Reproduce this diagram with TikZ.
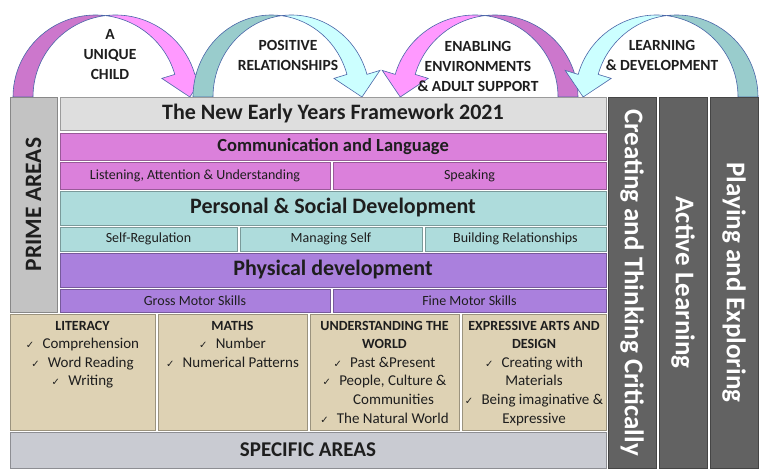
\documentclass[tikz,border=0pt]{standalone}
\usepackage{fontspec}
\setmainfont{Carlito}
\newfontfamily\tickfont{DejaVu Sans}
\usetikzlibrary{shadows}

\definecolor{pinklight}{HTML}{FF99FF}
\definecolor{pinkdark}{HTML}{CC77CC}
\definecolor{teallight}{HTML}{CCFFFF}
\definecolor{tealdark}{HTML}{99CCCC}
\definecolor{arrowline}{HTML}{4A66A8}
\definecolor{titlegray}{HTML}{DEDEDE}
\definecolor{commcol}{HTML}{DB80DB}
\definecolor{psdcol}{HTML}{AEDCDC}
\definecolor{physcol}{HTML}{AA80DD}
\definecolor{speccol}{HTML}{DED2B4}
\definecolor{specbar}{HTML}{C9CBD2}
\definecolor{primecol}{HTML}{C3C3C3}
\definecolor{charcol}{HTML}{626262}
\definecolor{inkcol}{HTML}{1E1E1E}

\newcommand\chk{{\tickfont\fontsize{10}{10}\selectfont ✓}\hspace{0.55em}}
\newcommand\hd[1]{{\fontsize{14}{18.6}\selectfont\bfseries #1}}

% curved arrow: tail x, head x, back colour, front colour
\def\curvedarrow#1#2#3#4{%
  \pgfmathsetmacro\arx{(#2-#1)/2}
  \pgfmathsetmacro\cL{#1+\arx}
  \pgfmathsetmacro\cR{\cL+20}
  \pgfmathsetmacro\tL{acos(10/\arx)}
  \pgfmathsetmacro\tR{180-\tL}
  \pgfmathsetmacro\sx{\arx*cos(16)}
  \pgfmathsetmacro\sy{375+82*sin(16)}
  \filldraw[fill=#3, draw=arrowline, line width=0.6pt]
    (#1,375) arc[start angle=180, end angle=\tL, x radius=\arx, y radius=82]
    arc[start angle=\tR, end angle=180, x radius=\arx, y radius=82] -- cycle;
  \filldraw[fill=#4, draw=arrowline, line width=0.6pt]
    (\cL+10,{375+82*sin(\tL)}) arc[start angle=\tR, end angle=16, x radius=\arx, y radius=82]
    -- ++(13,4) -- (\cL+\sx+15,375) -- (\cL+\sx-13,\sy-4) -- (\cL+\sx,\sy)
    arc[start angle=16, end angle=\tL, x radius=\arx, y radius=82] -- cycle;
}

\tikzset{
  tile/.style={fill=#1, draw=#1!70!black, line width=0.6pt, inner sep=0pt,
    drop shadow={shadow xshift=1.2pt, shadow yshift=-1.2pt, opacity=0.55}},
  arclabel/.style={align=center, text=inkcol, font=\fontsize{15.5}{20}\selectfont\bfseries},
  headfont/.style={text=inkcol, font=\fontsize{#1}{#1}\selectfont\bfseries},
  subfont/.style={text=inkcol, font=\fontsize{14}{14}\selectfont},
  spectext/.style={anchor=north, align=center, inner sep=2pt, yshift=-5, text=inkcol,
    font=\fontsize{15}{18.6}\selectfont},
  colfont/.style={text=white, font=\fontsize{27}{27}\selectfont\bfseries}
}

\begin{document}
\begin{tikzpicture}[x=1pt,y=1pt]
\useasboundingbox (0,0) rectangle (779,472);

% arrows over the top
\curvedarrow{13}{178}{pinkdark}{pinklight}
\curvedarrow{193}{350}{tealdark}{teallight}
\begin{scope}[xscale=-1]
  \curvedarrow{-578}{-412}{pinkdark}{pinklight}
  \curvedarrow{-758}{-595}{tealdark}{teallight}
\end{scope}

\node[arclabel] (child) at (110,417) {A\\UNIQUE\\CHILD};
\node[arclabel] (posrel) at (288,417) {POSITIVE\\RELATIONSHIPS};
\node[arclabel] (enable) at (478,406) {ENABLING\\ENVIRONMENTS\\\& ADULT SUPPORT};
\node[arclabel] (learn) at (662,417) {LEARNING\\\& DEVELOPMENT};

% prime areas
\node[tile=primecol, minimum width=215, minimum height=47, rotate=90, headfont=23.5] (prime) at (33.5,267.5) {PRIME AREAS};
\node[tile=titlegray, minimum width=546, minimum height=33, headfont=22] (title) at (333,358.5) {The New Early Years Framework 2021};

\node[tile=commcol, minimum width=546, minimum height=27, headfont=18.5] (comm) at (333,325.5) {Communication and Language};
\node[tile=commcol, minimum width=270, minimum height=27, subfont] (listen) at (195,296.5) {Listening, Attention \& Understanding};
\node[tile=commcol, minimum width=273, minimum height=27, subfont] (speak) at (469.5,296.5) {Speaking};

\node[tile=psdcol, minimum width=546, minimum height=34, headfont=22] (psd) at (333,264) {Personal \& Social Development};
\node[tile=psdcol, minimum width=177, minimum height=24, subfont] (selfreg) at (148.5,233) {Self-Regulation};
\node[tile=psdcol, minimum width=182, minimum height=24, subfont] (manage) at (331,233) {Managing Self};
\node[tile=psdcol, minimum width=181, minimum height=24, subfont] (build) at (515.5,233) {Building Relationships};

\node[tile=physcol, minimum width=546, minimum height=34, headfont=22] (phys) at (333,202) {Physical development};
\node[tile=physcol, minimum width=270, minimum height=23, subfont] (gross) at (195,171.5) {Gross Motor Skills};
\node[tile=physcol, minimum width=273, minimum height=23, subfont] (fine) at (469.5,171.5) {Fine Motor Skills};

% specific areas
\node[tile=speccol, minimum width=145, minimum height=116] (lit) at (82.5,100) {};
\node[tile=speccol, minimum width=149, minimum height=116] (maths) at (232.5,100) {};
\node[tile=speccol, minimum width=149, minimum height=116] (world) at (384.5,100) {};
\node[tile=speccol, minimum width=144, minimum height=116] (arts) at (534,100) {};

\node[spectext] (littext) at (lit.north) {\hd{LITERACY}\\\chk Comprehension\\\chk Word Reading\\\chk Writing};
\node[spectext] (mathstext) at (maths.north) {\hd{MATHS}\\\chk Number\\\chk Numerical Patterns};
\node[spectext] (worldtext) at (world.north) {\hd{UNDERSTANDING THE}\\\hd{WORLD}\\\chk Past \&Present\\\chk People, Culture \&\\\hspace{1.2em}Communities\\\chk The Natural World};
\node[spectext] (artstext) at (arts.north) {\hd{EXPRESSIVE ARTS AND}\\\hd{DESIGN}\\\chk Creating with\\Materials\\\chk Being imaginative \&\\Expressive};

\node[tile=specbar, minimum width=596, minimum height=36, headfont=21] (specific) at (308,22) {SPECIFIC AREAS};

% characteristics of learning
\node[tile=charcol, minimum width=371, minimum height=48, rotate=-90, colfont] (create) at (632,189.5) {Creating and Thinking Critically};
\node[tile=charcol, minimum width=371, minimum height=48, rotate=-90, colfont] (active) at (683,189.5) {Active Learning};
\node[tile=charcol, minimum width=371, minimum height=48, rotate=-90, colfont] (play) at (734,189.5) {Playing and Exploring};
\end{tikzpicture}
\end{document}
